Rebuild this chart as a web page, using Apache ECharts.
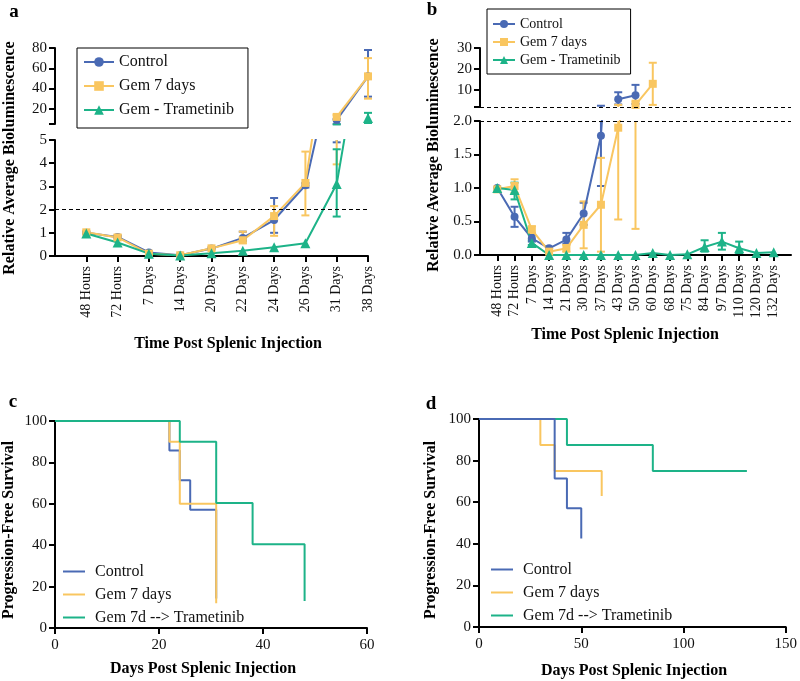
<!DOCTYPE html>
<html>
<head>
<meta charset="utf-8">
<script src="https://cdn.jsdelivr.net/npm/echarts@6/dist/echarts.min.js"></script>
<style>
  html, body { margin: 0; padding: 0; background: #fff; }
  #main { width: 800px; height: 681px; }
</style>
</head>
<body>
<div id="main"></div>
<script>
var dom = document.getElementById('main');
var myChart = echarts.init(dom, null, { renderer: 'canvas' });

const FONT = 'Liberation Serif';
const BLUE = '#4A6AB4';
const YELLOW = '#F9C660';
const GREEN = '#1DB388';

// ---- panel a ----
const aLabels = ['48 Hours', '72 Hours', '7 Days', '14 Days', '20 Days', '22 Days', '24 Days', '26 Days', '31 Days', '38 Days'];
const aControl = [1.0, 0.82, 0.15, 0.03, 0.32, 0.78, 1.55, 3.05, 9, 52];
const aGem = [1.02, 0.8, 0.1, 0.03, 0.33, 0.68, 1.72, 3.15, 12, 52];
const aTram = [0.97, 0.58, 0.1, 0.02, 0.12, 0.23, 0.38, 0.55, 3.1, 11];
const aControlErr = [[0.95, 1.05], [0.75, 0.88], null, null, null, [0.65, 1.05], [1.0, 2.5], [2.95, 3.15], [4.9, 10], [32, 78]];
const aGemErr = [[0.95, 1.08], [0.72, 0.9], null, null, [0.28, 0.38], [0.55, 1.05], [0.87, 2.15], [1.75, 4.5], [3.95, 14], [30, 70]];
const aTramErr = [null, null, null, null, null, null, null, null, [1.7, 4.6], [6, 16]];

// ---- panel b ----
const bLabels = ['48 Hours', '72 Hours', '7 Days', '14 Days', '21 Days', '30 Days', '37 Days', '43 Days', '50 Days',
  '60 Days', '68 Days', '75 Days', '84 Days', '97 Days', '110 Days', '120 Days', '132 Days'];
const bControl = [1.0, 0.57, 0.25, 0.1, 0.23, 0.62, 1.78, 5.7, 7.6];
const bGem = [0.98, 1.03, 0.38, 0.05, 0.1, 0.45, 0.75, 1.9, 3.0, 13];
const bTram = [1.0, 0.97, 0.18, 0, 0, 0, 0, 0, 0, 0.03, 0, 0.01, 0.12, 0.2, 0.1, 0.03, 0.04];
const bControlErr = [null, [0.42, 0.72], [0.2, 0.3], null, [0.17, 0.33], [0.45, 0.78], [1.03, 2.6], [3.2, 9], [3.5, 12.5]];
const bGemErr = [null, [0.93, 1.13], [0.33, 0.43], null, [0.05, 0.15], [0.1, 0.8], [0.05, 1.45], [0.53, 3.0], [0.39, 5.0], [3, 23]];
const bTramErr = [null, [0.83, 1.08], [0.15, 0.22], null, null, null, null, null, null, null, null, null,
  [0.05, 0.22], [0.08, 0.33], [0.03, 0.2], null, null];

// ---- panels c, d (Kaplan-Meier) ----
const cControl = [[0, 100], [22, 85.7], [24, 71.4], [26, 57.1], [31, 14.3]];
const cGem = [[0, 100], [22, 90], [24, 60], [31, 12]];
const cTram = [[0, 100], [24, 90], [31, 60.4], [38, 40.5], [48, 13]];
const dControl = [[0, 100], [37, 71.4], [43, 57.1], [50, 42.5]];
const dGem = [[0, 100], [30, 87.5], [37, 75], [60, 63]];
const dTram = [[0, 100], [43, 87.5], [85, 75], [131, 75]];

const names = ['Control', 'Gem 7 days', 'Gem - Trametinib'];
const kmNames = ['km:Control', 'km:Gem 7 days', 'km:Gem 7d --> Trametinib'];

function idx(n) { return Array.from({ length: n }, (_, i) => i); }

function lineSeries(name, values, color, symbol, size, axis, minVal) {
  return {
    type: 'line', name: name, xAxisIndex: axis, yAxisIndex: axis, clip: true,
    data: values.map((v, i) => [i, (v == null || (minVal != null && v < minVal)) ? '-' : v]),
    symbol: symbol, symbolSize: size, showSymbol: true,
    lineStyle: { color: color, width: 2 },
    itemStyle: { color: color },
    emphasis: { disabled: true },
    z: 3
  };
}

function renderErr(params, api) {
  const x = api.value(0);
  const p1 = api.coord([x, api.value(1)]);
  const p2 = api.coord([x, api.value(2)]);
  const cs = params.coordSys;
  const top = cs.y, bot = cs.y + cs.height;
  const clampY = y => Math.min(Math.max(y, top), bot);
  const ya = clampY(p1[1]), yb = clampY(p2[1]);
  const st = { stroke: api.visual('color'), lineWidth: 2 };
  const children = [];
  if (Math.abs(ya - yb) > 0.5) {
    children.push({ type: 'line', shape: { x1: p1[0], y1: ya, x2: p1[0], y2: yb }, style: st });
  }
  [p1, p2].forEach(p => {
    if (p[1] >= top - 0.5 && p[1] <= bot + 0.5) {
      children.push({ type: 'line', shape: { x1: p[0] - 4, y1: p[1], x2: p[0] + 4, y2: p[1] }, style: st });
    }
  });
  return { type: 'group', children: children };
}

function errSeries(errs, color, axis) {
  const d = [];
  errs.forEach((e, i) => { if (e) d.push([i, e[0], e[1]]); });
  return {
    type: 'custom', xAxisIndex: axis, yAxisIndex: axis, renderItem: renderErr,
    data: d, itemStyle: { color: color }, encode: { x: 0, y: [1, 2] }, silent: true, z: 2
  };
}

function kmSeries(name, data, color, axis) {
  return {
    type: 'line', name: name, xAxisIndex: axis, yAxisIndex: axis, step: 'end',
    data: data, symbol: 'none', lineStyle: { color: color, width: 2 }, itemStyle: { color: color },
    emphasis: { disabled: true }
  };
}

const dashed = {
  silent: true, symbol: 'none', label: { show: false },
  lineStyle: { type: [4, 3], color: '#000', width: 1 },
  data: [{ yAxis: 2 }]
};

const axisLineStyle = { show: true, onZero: false, lineStyle: { color: '#000', width: 2 } };
const tickStyle = { show: true, length: 6, lineStyle: { color: '#000', width: 2 } };
const labelStyle = { color: '#111', fontFamily: FONT, fontSize: 15 };

function catX(grid, max, labels, show) {
  return {
    type: 'value', gridIndex: grid, min: -1, max: max, show: show, splitLine: { show: false },
    axisLine: axisLineStyle,
    axisTick: Object.assign({ customValues: idx(labels.length) }, tickStyle),
    axisLabel: {
      customValues: idx(labels.length), rotate: 90, margin: 10,
      color: '#111', fontFamily: FONT, fontSize: 14,
      formatter: v => labels[Math.round(v)]
    }
  };
}

function valY(grid, min, max, opts) {
  return Object.assign({
    type: 'value', gridIndex: grid, min: min, max: max, splitLine: { show: false },
    axisLine: axisLineStyle, axisTick: tickStyle, axisLabel: Object.assign({ margin: 8 }, labelStyle)
  }, opts || {});
}

const series = [
  // a lower
  lineSeries(names[0], aControl, BLUE, 'circle', 8, 1),
  lineSeries(names[1], aGem, YELLOW, 'rect', 8, 1),
  lineSeries(names[2], aTram, GREEN, 'triangle', 10, 1),
  errSeries(aControlErr, BLUE, 1), errSeries(aGemErr, YELLOW, 1), errSeries(aTramErr, GREEN, 1),
  // a upper
  lineSeries(names[0], aControl, BLUE, 'circle', 8, 0, 5),
  lineSeries(names[1], aGem, YELLOW, 'rect', 8, 0, 5),
  lineSeries(names[2], aTram, GREEN, 'triangle', 10, 0, 5),
  errSeries(aControlErr, BLUE, 0), errSeries(aGemErr, YELLOW, 0), errSeries(aTramErr, GREEN, 0),
  // b lower
  lineSeries(names[0], bControl, BLUE, 'circle', 8, 3),
  lineSeries(names[1], bGem, YELLOW, 'rect', 8, 3),
  lineSeries(names[2], bTram, GREEN, 'triangle', 10, 3),
  errSeries(bControlErr, BLUE, 3), errSeries(bGemErr, YELLOW, 3), errSeries(bTramErr, GREEN, 3),
  // b upper
  lineSeries(names[0], bControl, BLUE, 'circle', 8, 2, 2),
  lineSeries(names[1], bGem, YELLOW, 'rect', 8, 2, 2),
  lineSeries(names[2], bTram, GREEN, 'triangle', 10, 2, 2),
  errSeries(bControlErr, BLUE, 2), errSeries(bGemErr, YELLOW, 2), errSeries(bTramErr, GREEN, 2),
  // c
  kmSeries(kmNames[0], cControl, BLUE, 4),
  kmSeries(kmNames[1], cGem, YELLOW, 4),
  kmSeries(kmNames[2], cTram, GREEN, 4),
  // d (blue drawn last, as in the source)
  kmSeries(kmNames[2], dTram, GREEN, 5),
  kmSeries(kmNames[1], dGem, YELLOW, 5),
  kmSeries(kmNames[0], dControl, BLUE, 5)
];
series[0].markLine = dashed;   // a: threshold at 2
series[12].markLine = dashed;  // b lower
series[18].markLine = dashed;  // b upper

function title(text, x, y, vertical, size) {
  return {
    type: 'text', x: x, y: y, rotation: vertical ? Math.PI / 2 : 0, silent: true,
    style: {
      text: text, fontFamily: FONT, fontWeight: 'bold', fontSize: size || 16, fill: '#000',
      align: 'center', verticalAlign: 'middle'
    }
  };
}

function kmLegend(left, top) {
  return {
    data: kmNames.map(n => ({ name: n, icon: 'rect' })), left: left, top: top, orient: 'vertical',
    itemGap: 6, itemWidth: 22, itemHeight: 2,
    formatter: n => n.slice(3), selectedMode: false,
    textStyle: { fontFamily: FONT, fontSize: 16, color: '#111', padding: [0, 0, 0, 5], lineHeight: 17 }
  };
}

var option = {
  backgroundColor: '#fff',
  animation: false,
  textStyle: { fontFamily: FONT },
  grid: [
    { left: 55, top: 48, width: 313, height: 76 },
    { left: 55, top: 140, width: 313, height: 116 },
    { left: 480, top: 48, width: 311, height: 59 },
    { left: 480, top: 121, width: 311, height: 134 },
    { left: 55, top: 421, width: 312, height: 207 },
    { left: 479, top: 419, width: 312, height: 208 }
  ],
  xAxis: [
    catX(0, 9, aLabels, false),
    catX(1, 9, aLabels, true),
    catX(2, 17, bLabels, false),
    catX(3, 17, bLabels, true),
    { type: 'value', gridIndex: 4, min: 0, max: 60, interval: 20, splitLine: { show: false },
      axisLine: axisLineStyle, axisTick: tickStyle, axisLabel: Object.assign({ margin: 10 }, labelStyle) },
    { type: 'value', gridIndex: 5, min: 0, max: 150, interval: 50, splitLine: { show: false },
      axisLine: axisLineStyle, axisTick: tickStyle, axisLabel: Object.assign({ margin: 10 }, labelStyle) }
  ],
  yAxis: [
    valY(0, 5, 80, {
      axisTick: Object.assign({ customValues: [5, 20, 40, 60, 80] }, tickStyle),
      axisLabel: Object.assign({ margin: 8, customValues: [20, 40, 60, 80] }, labelStyle)
    }),
    valY(1, 0, 5, { interval: 1 }),
    valY(2, 2, 30, {
      axisTick: Object.assign({ customValues: [2, 10, 20, 30] }, tickStyle),
      axisLabel: Object.assign({ margin: 8, customValues: [10, 20, 30] }, labelStyle)
    }),
    valY(3, 0, 2, { interval: 0.5, axisLabel: Object.assign({ margin: 8, formatter: v => v.toFixed(1) }, labelStyle) }),
    valY(4, 0, 100, { interval: 20 }),
    valY(5, 0, 100, { interval: 20 })
  ],
  legend: [
    { data: names, left: 77, top: 48, orient: 'vertical', itemGap: 8, itemWidth: 30, itemHeight: 12,
      padding: [6, 14, 10, 6], borderColor: '#000', borderWidth: 1,
      textStyle: { fontFamily: FONT, fontSize: 16, color: '#111' }, selectedMode: false },
    { data: names, left: 487, top: 9, orient: 'vertical', itemGap: 4, itemWidth: 22, itemHeight: 10,
      padding: [8, 10, 7, 5], borderColor: '#000', borderWidth: 1,
      textStyle: { fontFamily: FONT, fontSize: 14, color: '#111' }, selectedMode: false },
    kmLegend(58, 558),
    kmLegend(486, 556)
  ],
  graphic: [
    title('a', 14, 12, false, 19),
    title('b', 432, 10, false, 19),
    title('c', 13, 402, false, 19),
    title('d', 431, 404, false, 19),
    title('Relative Average Bioluminescence', 10, 158, true),
    title('Relative Average Bioluminescence', 434, 155, true),
    title('Progression-Free Survival', 9, 530, true),
    title('Progression-Free Survival', 431, 530, true),
    title('Time Post Splenic Injection', 228, 344, false),
    title('Time Post Splenic Injection', 625, 335, false),
    title('Days Post Splenic Injection', 203, 669, false),
    title('Days Post Splenic Injection', 634, 671, false)
  ],
  series: series
};

if (option && typeof option === 'object') {
  myChart.setOption(option);
}
window.addEventListener('resize', myChart.resize);
</script>
</body>
</html>
